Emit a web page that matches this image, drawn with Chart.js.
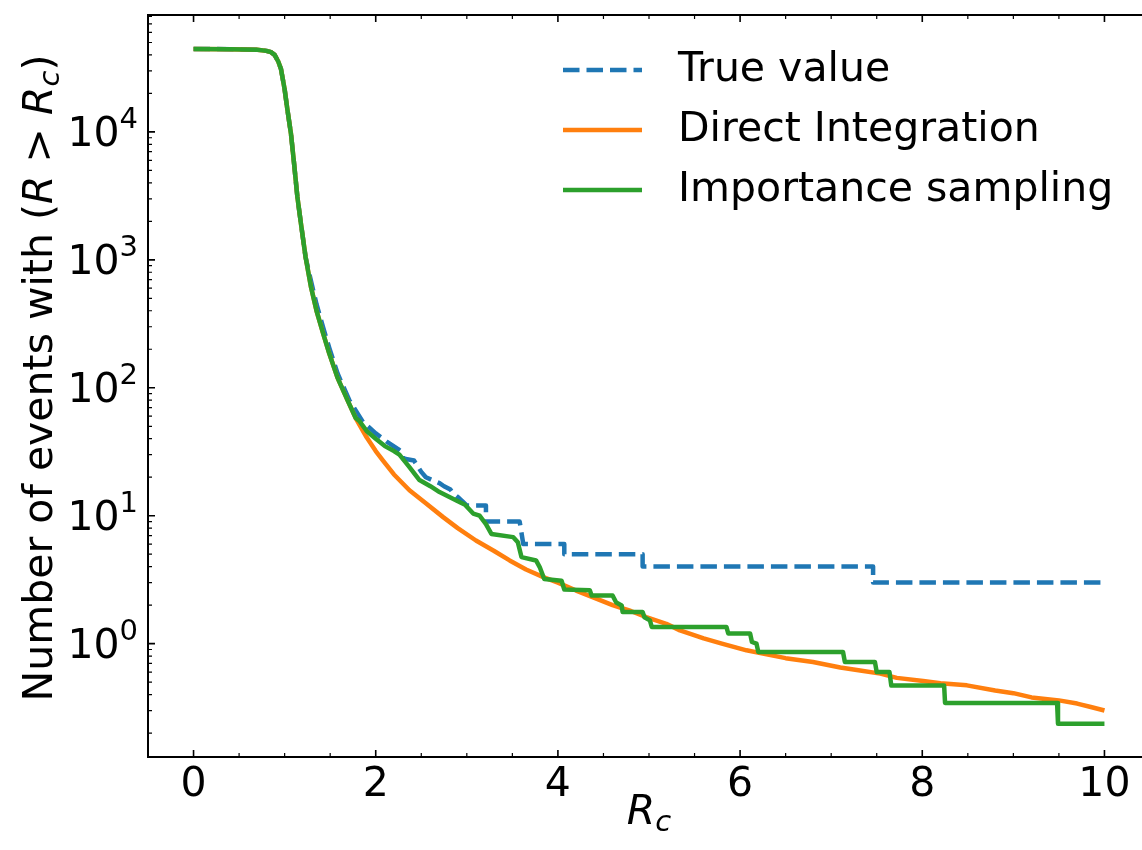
<!DOCTYPE html>
<html>
<head>
<meta charset="utf-8">
<script src="https://cdn.jsdelivr.net/npm/chart.js@4.4.1/dist/chart.umd.min.js"></script>
<style>
  html, body { margin: 0; padding: 0; background: #fff; overflow: hidden; }
  #wrap { width: 1142px; height: 850px; overflow: hidden; }
</style>
</head>
<body>
<div id="wrap"><canvas id="eventsChart" width="1160" height="850"></canvas></div>
<script>
// Steep part of the curve, identical for the three estimates
const commonR = [0, 0.4, 0.7, 0.8, 0.85, 0.89, 0.93, 0.96, 1.0, 1.03, 1.07, 1.1, 1.14, 1.18, 1.23];
const commonN = [44500, 44300, 43800, 43000, 42000, 40000, 35500, 31000, 21500, 15000, 9600, 6000, 3100, 1900, 1050];

// Orange and green still agree up to R_c ~ 1.8
const fitR = [1.29, 1.35, 1.42, 1.49, 1.58, 1.69, 1.78];
const fitN = [610, 400, 270, 185, 120, 80, 58];

// True value: integer counts, drawn as steps
const trueR = [1.29, 1.35, 1.42, 1.49, 1.58, 1.71, 1.86, 2.0, 2.12, 2.25, 2.3, 2.3, 2.42, 2.45, 2.5, 2.55, 2.62, 2.7, 2.75, 2.82, 2.85, 2.9, 2.95, 3.0, 3.21, 3.21, 3.58, 3.62, 4.07, 4.07, 4.93, 4.93, 7.46, 7.46, 10];
const trueN = [680, 450, 300, 205, 130, 80, 54, 44, 38, 33, 31, 28, 27, 25, 22, 20, 19, 18, 17, 16, 15, 14, 13, 12, 12, 9, 9, 6, 6, 5, 5, 4, 4, 3, 3];

// Direct integration
const directR = [1.9, 2.0, 2.08, 2.2, 2.37, 2.55, 2.74, 2.9, 3.1, 3.3, 3.47, 3.65, 3.84, 4.0, 4.2, 4.38, 4.6, 4.8, 4.97, 5.19, 5.34, 5.6, 5.8, 6.07, 6.25, 6.5, 6.8, 7.1, 7.3, 7.54, 7.72, 8.01, 8.2, 8.49, 8.8, 9.0, 9.2, 9.5, 9.7, 9.85, 10];
const directN = [41, 32, 27, 21, 15.8, 12.5, 9.75, 8.0, 6.4, 5.3, 4.47, 3.8, 3.31, 3.0, 2.6, 2.31, 2.0, 1.8, 1.61, 1.43, 1.27, 1.1, 1.0, 0.887, 0.835, 0.77, 0.718, 0.65, 0.62, 0.583, 0.54, 0.51, 0.49, 0.472, 0.43, 0.41, 0.38, 0.36, 0.34, 0.32, 0.30];

// Importance sampling
const samplingR = [1.82, 1.9, 2.0, 2.1, 2.2, 2.26, 2.37, 2.48, 2.6, 2.7, 2.88, 2.98, 3.07, 3.14, 3.21, 3.27, 3.51, 3.56, 3.60, 3.76, 3.80, 3.85, 4.04, 4.07, 4.35, 4.37, 4.60, 4.64, 4.70, 4.71, 4.93, 4.95, 5.01, 5.03, 5.85, 5.87, 6.11, 6.13, 6.18, 6.2, 7.13, 7.15, 7.48, 7.5, 7.64, 7.66, 8.24, 8.25, 9.48, 9.49, 10];
const samplingN = [55, 46, 40, 35, 32, 30, 24, 19, 17, 15.3, 13.2, 12.2, 10.4, 10, 8.6, 7.2, 6.8, 6.2, 4.75, 4.47, 3.97, 3.2, 3.1, 2.65, 2.62, 2.38, 2.38, 2.1, 1.99, 1.77, 1.77, 1.61, 1.52, 1.35, 1.35, 1.2, 1.2, 1.03, 1.0, 0.86, 0.86, 0.72, 0.72, 0.6, 0.6, 0.47, 0.47, 0.344, 0.344, 0.237, 0.237];

const seriesNames = ["True value", "Direct Integration", "Importance sampling"];
const seriesColors = ["#1f77b4", "#ff7f0e", "#2ca02c"];

const xTickValues = [0, 2, 4, 6, 8, 10];
const yTickExps = [0, 1, 2, 3, 4];
const xMin = -0.5, xMax = 10.5;
const yMin = 0.13, yMax = 82000;

const FONT = "DejaVu Sans";
const FS = 41, FS_SMALL = 29;
const LW = 4.5;

const toPoints = (rs, ns) => rs.map((r, i) => ({ x: r, y: ns[i] }));

const truePoints = toPoints(commonR.concat(trueR), commonN.concat(trueN));
const directPoints = toPoints(commonR.concat(fitR, directR), commonN.concat(fitN, directN));
const samplingPoints = toPoints(commonR.concat(fitR, samplingR), commonN.concat(fitN, samplingN));

// draws a run of text pieces one after the other (for italic / sub / superscript)
function drawRuns(ctx, runs, x, y) {
  let cx = x;
  runs.forEach(run => {
    ctx.font = run.font;
    ctx.fillText(run.t, cx, y + (run.dy || 0));
    cx += ctx.measureText(run.t).width;
  });
  return cx;
}
function runsWidth(ctx, runs) {
  let w = 0;
  runs.forEach(run => { ctx.font = run.font; w += ctx.measureText(run.t).width; });
  return w;
}

// frame, inward ticks, y labels with exponents, axis titles, legend
const decorPlugin = {
  id: "decor",
  afterDraw(chart) {
    const ctx = chart.ctx;
    const { left, right, top, bottom } = chart.chartArea;
    const xs = chart.scales.x, ys = chart.scales.y;
    ctx.save();
    ctx.strokeStyle = "#000";
    ctx.fillStyle = "#000";

    // ticks
    const tick = (px, len, w, horizontal) => {
      ctx.lineWidth = w;
      ctx.beginPath();
      if (horizontal) {
        ctx.moveTo(px, bottom); ctx.lineTo(px, bottom - len);
        ctx.moveTo(px, top); ctx.lineTo(px, top + len);
      } else {
        ctx.moveTo(left, px); ctx.lineTo(left + len, px);
        ctx.moveTo(right, px); ctx.lineTo(right - len, px);
      }
      ctx.stroke();
    };
    for (let v = 0; v <= 10.0001; v += 0.5) {
      const major = Math.abs(v / 2 - Math.round(v / 2)) < 1e-6;
      tick(xs.getPixelForValue(v), major ? 7 : 4, major ? 1.6 : 1.2, true);
    }
    for (let e = -1; e <= 4; e++) {
      for (let k = 1; k <= 9; k++) {
        const v = k * Math.pow(10, e);
        if (v < yMin || v > yMax) continue;
        tick(ys.getPixelForValue(v), k === 1 ? 7 : 4, k === 1 ? 1.6 : 1.2, false);
      }
    }

    // frame
    ctx.lineWidth = 2;
    ctx.strokeRect(left, top, right - left, bottom - top);

    // y tick labels: 10 with superscript exponent
    ctx.textBaseline = "alphabetic";
    ctx.textAlign = "left";
    yTickExps.forEach(e => {
      const py = ys.getPixelForValue(Math.pow(10, e));
      const runs = [
        { t: "10", font: `${FS}px '${FONT}'` },
        { t: String(e), font: `${FS_SMALL}px '${FONT}'`, dy: -18 }
      ];
      const w = runsWidth(ctx, runs);
      drawRuns(ctx, runs, left - 10 - w, py + 14);
    });

    // x axis title
    const xRuns = [
      { t: "R", font: `italic ${FS}px '${FONT}'` },
      { t: "c", font: `italic ${FS_SMALL}px '${FONT}'`, dy: 7 }
    ];
    drawRuns(ctx, xRuns, 649 - runsWidth(ctx, xRuns) / 2, 824);

    // y axis title, rotated
    const yRuns = [
      { t: "Number of events with (", font: `${FS}px '${FONT}'` },
      { t: "R", font: `italic ${FS}px '${FONT}'` },
      { t: " > ", font: `${FS}px '${FONT}'` },
      { t: "R", font: `italic ${FS}px '${FONT}'` },
      { t: "c", font: `italic ${FS_SMALL}px '${FONT}'`, dy: 7 },
      { t: ")", font: `${FS}px '${FONT}'` }
    ];
    ctx.save();
    ctx.translate(52, 378);
    ctx.rotate(-Math.PI / 2);
    drawRuns(ctx, yRuns, -runsWidth(ctx, yRuns) / 2, 0);
    ctx.restore();

    // legend
    chart.data.datasets.forEach((ds, i) => {
      const ly = 70 + i * 60;
      ctx.save();
      ctx.strokeStyle = ds.borderColor;
      ctx.lineWidth = ds.borderWidth;
      ctx.setLineDash(ds.borderDash || []);
      ctx.beginPath();
      ctx.moveTo(563, ly);
      ctx.lineTo(642, ly);
      ctx.stroke();
      ctx.restore();
      ctx.font = `${FS}px '${FONT}'`;
      ctx.textBaseline = "middle";
      ctx.fillText(ds.label, 678, ly);
    });
    ctx.restore();
  }
};

new Chart("eventsChart", {
  type: "line",
  data: {
    datasets: [
      { label: seriesNames[0], data: truePoints, borderColor: seriesColors[0], borderWidth: LW, borderDash: [16.5, 7], order: 3 },
      { label: seriesNames[1], data: directPoints, borderColor: seriesColors[1], borderWidth: LW, order: 2 },
      { label: seriesNames[2], data: samplingPoints, borderColor: seriesColors[2], borderWidth: LW, order: 1 }
    ]
  },
  options: {
    responsive: false,
    animation: false,
    layout: { padding: { top: 15, right: 10, left: 0, bottom: 0 } },
    plugins: { legend: { display: false }, tooltip: { enabled: false } },
    elements: {
      point: { radius: 0 },
      line: { tension: 0, borderJoinStyle: "round", fill: false }
    },
    scales: {
      x: {
        type: "linear", min: xMin, max: xMax,
        grid: { display: false, drawTicks: false },
        border: { display: false },
        ticks: { font: { family: FONT, size: FS }, color: "#000", padding: 4, maxRotation: 0, autoSkip: false },
        afterBuildTicks: s => { s.ticks = xTickValues.map(v => ({ value: v })); },
        afterFit: s => { s.height = 93; }
      },
      y: {
        type: "logarithmic", min: yMin, max: yMax,
        grid: { display: false, drawTicks: false },
        border: { display: false },
        ticks: { display: false },
        afterFit: s => { s.width = 148; }
      }
    }
  },
  plugins: [decorPlugin]
});
</script>
</body>
</html>
